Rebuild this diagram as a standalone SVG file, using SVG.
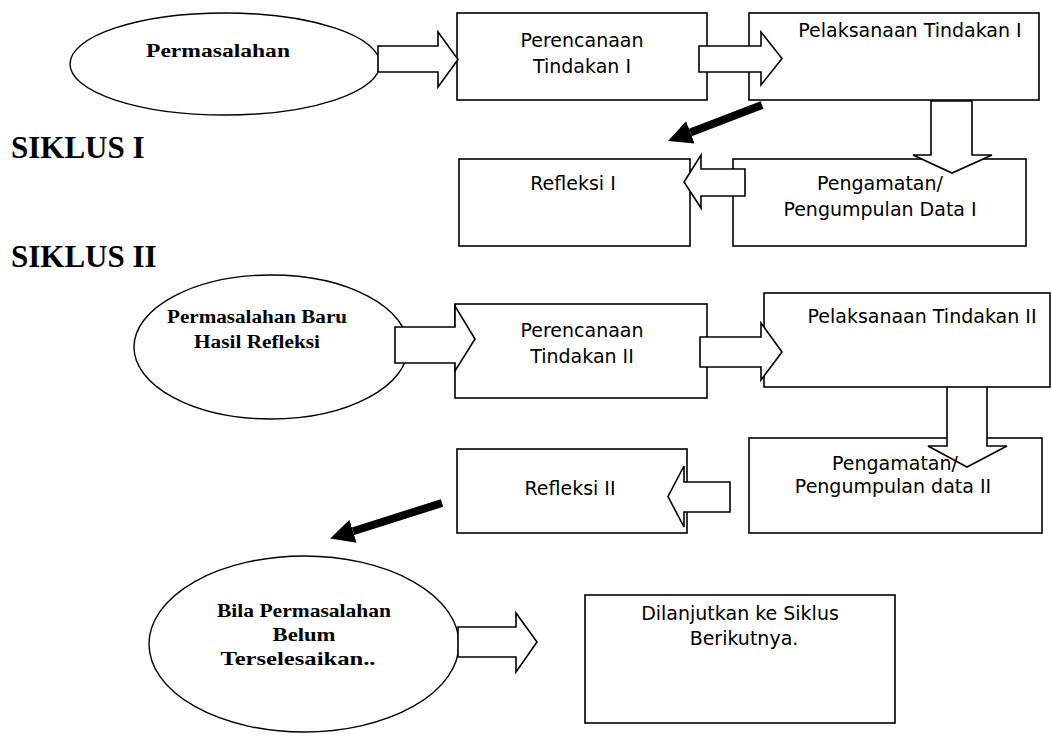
<svg xmlns="http://www.w3.org/2000/svg" width="1052" height="736" viewBox="0 0 1052 736">
<style>
.box{fill:#fff;stroke:#000;stroke-width:1.6}
.ell{fill:#fff;stroke:#000;stroke-width:1.4}
.bt{font-family:"DejaVu Sans",Verdana,sans-serif;font-size:19px;fill:#000;text-anchor:middle}
.et{font-family:"Liberation Serif","Times New Roman",serif;font-weight:bold;fill:#000;text-anchor:middle}
.sik{font-family:"Liberation Serif","Times New Roman",serif;font-weight:bold;font-size:31px;fill:#000}
.blk{fill:#fff;stroke:#000;stroke-width:1.6;stroke-linejoin:miter}
.thick{stroke:#000;stroke-width:8;fill:none;marker-end:url(#head)}
</style>
<defs>
<marker id="head" viewBox="0 0 24 24" refX="0" refY="12" markerWidth="24" markerHeight="24" markerUnits="userSpaceOnUse" orient="auto">
<path d="M0,0 L24,12 L0,24 Z" fill="#000"/>
</marker>
</defs>
<rect width="1052" height="736" fill="#fff"/>

<text class="sik" x="11" y="158">SIKLUS I</text>
<text class="sik" x="11" y="267">SIKLUS II</text>

<g id="permasalahan">
<ellipse class="ell" cx="225" cy="64" rx="155" ry="51"/>
<text class="et" x="218" y="57" font-size="19" textLength="144" lengthAdjust="spacingAndGlyphs">Permasalahan</text>
</g>
<g id="perencanaan1">
<rect class="box" x="457" y="13" width="250" height="87"/>
<text class="bt" x="582" y="47">Perencanaan</text>
<text class="bt" x="582" y="73">Tindakan I</text>
</g>
<g id="pelaksanaan1">
<rect class="box" x="749" y="13" width="290" height="87"/>
<text class="bt" x="910" y="37" font-size="19.5">Pelaksanaan Tindakan I</text>
</g>
<g id="refleksi1">
<rect class="box" x="459" y="159" width="231" height="87"/>
<text class="bt" x="573" y="190">Refleksi I</text>
</g>
<g id="pengamatan1">
<rect class="box" x="733" y="159" width="293" height="87"/>
<text class="bt" x="880" y="190">Pengamatan/</text>
<text class="bt" x="880" y="216">Pengumpulan Data I</text>
</g>
<g id="permasalahan-baru">
<ellipse class="ell" cx="271" cy="347" rx="137" ry="72"/>
<text class="et" x="257" y="323" font-size="18" textLength="180" lengthAdjust="spacingAndGlyphs">Permasalahan Baru</text>
<text class="et" x="257" y="348" font-size="18" textLength="126" lengthAdjust="spacingAndGlyphs">Hasil Refleksi</text>
</g>
<g id="perencanaan2">
<rect class="box" x="455" y="304" width="252" height="94"/>
<text class="bt" x="582" y="337">Perencanaan</text>
<text class="bt" x="582" y="363">Tindakan II</text>
</g>
<g id="pelaksanaan2">
<rect class="box" x="764" y="293" width="286" height="94"/>
<text class="bt" x="922" y="323" font-size="19.5">Pelaksanaan Tindakan II</text>
</g>
<g id="refleksi2">
<rect class="box" x="457" y="449" width="230" height="84"/>
<text class="bt" x="570" y="495">Refleksi II</text>
</g>
<g id="pengamatan2">
<rect class="box" x="749" y="438" width="293" height="95"/>
<text class="bt" x="895" y="470">Pengamatan/</text>
<text class="bt" x="893" y="493">Pengumpulan data II</text>
</g>
<g id="bila">
<ellipse class="ell" cx="304" cy="644" rx="155" ry="88"/>
<text class="et" x="304" y="617" font-size="19" textLength="174" lengthAdjust="spacingAndGlyphs">Bila Permasalahan</text>
<text class="et" x="304" y="641" font-size="19" textLength="63" lengthAdjust="spacingAndGlyphs">Belum</text>
<text class="et" x="298" y="665" font-size="19" textLength="155" lengthAdjust="spacingAndGlyphs">Terselesaikan..</text>
</g>
<g id="dilanjutkan">
<rect class="box" x="585" y="595" width="310" height="128"/>
<text class="bt" x="740" y="620" font-size="21">Dilanjutkan ke Siklus</text>
<text class="bt" x="744" y="645" font-size="21">Berikutnya.</text>
</g>

<g id="connectors">
<path class="blk" d="M378,46 H438 V32 L458,59.5 L438,87 V72 H378 Z"/>
<path class="blk" d="M699,46 H761 V32 L782,58.5 L761,85 V72 H699 Z"/>
<path class="blk" d="M931,101 V155 H913 L952,173 L992,155 H972 V101 Z"/>
<path class="blk" d="M745,169 H701 V155 L684,182 L701,208 V196 H745 Z"/>
<path class="thick" d="M762,105 L690.4,132.4"/>
<path class="blk" d="M395,327 H455 V306 L475,339 L455,371 V363 H395 Z"/>
<path class="blk" d="M700,337 H761 V323 L782,352 L761,380 V367 H700 Z"/>
<rect x="947" y="388" width="40" height="58" fill="#fff"/>
<path class="blk" style="fill:none" d="M947,387 V446 H928 L967,467 L1007,446 H987 V387"/>
<path class="blk" d="M730,482 H684 V466 L668,496.5 L684,527 V512 H730 Z"/>
<path class="thick" d="M442,503 L353,531.3"/>
<path class="blk" d="M458,627 H516 V613 L537,642 L516,672 V657 H458 Z"/>
</g>
</svg>
